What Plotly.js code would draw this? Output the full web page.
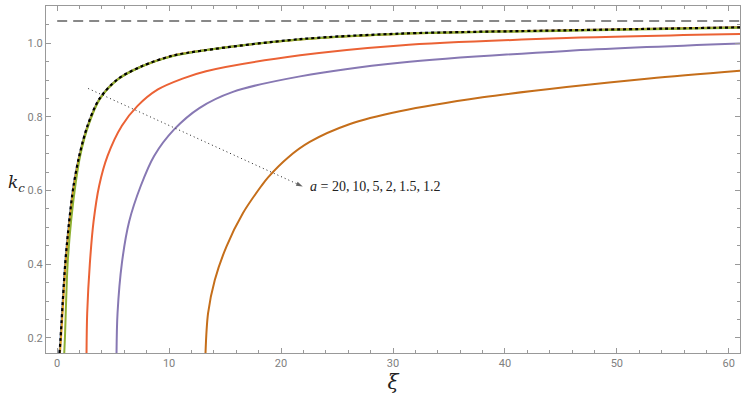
<!DOCTYPE html>
<html>
<head>
<meta charset="utf-8">
<script src="https://cdn.plot.ly/plotly-3.0.1.min.js"></script>
<style>html,body{margin:0;padding:0;background:#fff;}#chart{width:748px;height:395px;}</style>
</head>
<body>
<div id="chart"></div>
<script>
// a values
const aLabels = ["20", "10", "5", "2", "1.5", "1.2"];
// limiting curve (black dotted) and near-identical curves
const xiLimit = [0.21, 0.30, 0.72, 1.07, 1.46, 1.97, 2.71, 3.75, 5.39, 7.6, 10.3, 13.0, 21.7, 30.6, 45.5, 61];
const kLimit  = [0.159, 0.199, 0.403, 0.516, 0.613, 0.694, 0.776, 0.848, 0.902, 0.938, 0.966, 0.980, 1.011, 1.026, 1.035, 1.043];
const xiA20 = [0.21, 0.30, 0.72, 1.07, 1.46, 1.97, 2.71, 3.75, 5.39, 7.6, 10.3, 13.0, 21.7, 30.6, 45.5, 61];
const kA20  = [0.159, 0.199, 0.403, 0.516, 0.613, 0.694, 0.776, 0.848, 0.902, 0.938, 0.966, 0.980, 1.011, 1.026, 1.035, 1.043];
const xiA10 = [0.25, 0.34, 0.76, 1.11, 1.50, 2.0, 2.74, 3.78, 5.42, 7.62, 10.32, 13.0, 21.7, 30.6, 45.5, 61];
const kA10  = [0.159, 0.199, 0.403, 0.516, 0.613, 0.694, 0.776, 0.848, 0.902, 0.938, 0.966, 0.980, 1.010, 1.025, 1.035, 1.043];
const xiA5 = [0.63, 0.69, 0.93, 1.25, 1.65, 2.05, 2.78, 3.8, 5.45, 7.65, 10.35, 13.05, 21.7, 30.6, 45.5, 61];
const kA5  = [0.159, 0.200, 0.400, 0.520, 0.620, 0.694, 0.776, 0.848, 0.902, 0.938, 0.965, 0.980, 1.010, 1.025, 1.034, 1.042];
const xiA2 = [2.62, 2.68, 2.92, 3.25, 3.75, 4.5, 5.78, 7.18, 8.96, 11.2, 13.3, 21.7, 30.6, 45.5, 61];
const kA2  = [0.159, 0.267, 0.403, 0.516, 0.613, 0.694, 0.776, 0.830, 0.874, 0.904, 0.924, 0.967, 0.994, 1.014, 1.025];
const xiA15 = [5.30, 5.39, 5.78, 6.43, 7.47, 8.66, 10.45, 12.7, 15.7, 21.7, 30.6, 45.5, 61];
const kA15  = [0.159, 0.267, 0.403, 0.516, 0.613, 0.694, 0.766, 0.824, 0.868, 0.910, 0.947, 0.979, 0.999];
const xiA12 = [13.25, 13.48, 14.08, 15.12, 16.6, 18.25, 18.84, 20.63, 22.56, 26.1, 30.6, 38.0, 45.5, 52.9, 61];
const kA12  = [0.159, 0.267, 0.357, 0.448, 0.539, 0.613, 0.636, 0.690, 0.732, 0.780, 0.815, 0.853, 0.881, 0.904, 0.925];
const asymptote = 1.06;
const xRange = [-1.0, 61];
const yRange = [0.159, 1.101];
// annotation pointer (data coords)
const ptrStart = [2.77, 0.877];
const ptrEnd = [21.94, 0.611];

const colors = ["#5E81B5", "#E19C24", "#8FB032", "#EB6235", "#8778B3", "#C56E1A"];
const xs = [xiA20, xiA10, xiA5, xiA2, xiA15, xiA12];
const ys = [kA20, kA10, kA5, kA2, kA15, kA12];

const traces = xs.map((x, i) => ({
  x: x, y: ys[i], type: "scatter", mode: "lines", name: "a=" + aLabels[i],
  line: {color: colors[i], width: 2, shape: "spline", smoothing: 0.9},
  hoverinfo: "skip"
}));
traces.push({
  x: xiLimit, y: kLimit, type: "scatter", mode: "lines", name: "limit",
  line: {color: "#000", width: 2.2, dash: "3px,3px", shape: "spline", smoothing: 0.9},
  hoverinfo: "skip"
});
// dotted pointer with arrow head
traces.push({
  x: [ptrStart[0], ptrEnd[0]], y: [ptrStart[1], ptrEnd[1]], type: "scatter", mode: "lines+markers",
  line: {color: "#222", width: 1, dash: "1px,3px"},
  marker: {symbol: "arrow", angleref: "previous", size: [0, 7], color: "#222", line: {width: 0}},
  hoverinfo: "skip"
});

const axisCommon = {
  showgrid: false, zeroline: false, showline: true, linecolor: "#999", linewidth: 1,
  mirror: "allticks", ticks: "inside", ticklen: 5, tickcolor: "#999", tickwidth: 1,
  tickfont: {family: "Roboto, 'DejaVu Sans', sans-serif", size: 11, color: "#808080"},
};

const layout = {
  width: 748, height: 395,
  margin: {l: 46, r: 8, t: 6, b: 42},
  paper_bgcolor: "#fff", plot_bgcolor: "#fff",
  showlegend: false,
  xaxis: Object.assign({}, axisCommon, {
    range: xRange, dtick: 10, tick0: 0,
    minor: {dtick: 2, tick0: 0, ticks: "inside", ticklen: 3, tickcolor: "#999"},
    title: {text: "<i>ξ</i>", font: {family: "'DejaVu Serif', serif", size: 20, color: "#222"}, standoff: 4}
  }),
  yaxis: Object.assign({}, axisCommon, {
    range: yRange, dtick: 0.2, tick0: 0, tickformat: ".1f",
    minor: {dtick: 0.05, tick0: 0, ticks: "inside", ticklen: 3, tickcolor: "#999"}
  }),
  shapes: [
    {type: "line", xref: "x", x0: 0, x1: xRange[1], yref: "y", y0: asymptote, y1: asymptote,
     line: {color: "#888", width: 2, dash: "10px,6px"}}
  ],
  annotations: [
    {x: -0.058, y: 0.62, xref: "paper", yref: "y", xanchor: "left", yanchor: "middle",
     showarrow: false, text: "<i>k<sub>c</sub></i>",
     font: {family: "'DejaVu Serif', serif", size: 17, color: "#222"}},
    {x: ptrEnd[0] + 0.5, y: ptrEnd[1], xref: "x", yref: "y", xanchor: "left", yanchor: "middle",
     showarrow: false, text: "<i>a</i> = " + aLabels.join(",\u2009"),
     font: {family: "'Liberation Serif', 'DejaVu Serif', serif", size: 14, color: "#222"}}
  ]
};

Plotly.newPlot("chart", traces, layout, {displayModeBar: false, staticPlot: true});
</script>
</body>
</html>
